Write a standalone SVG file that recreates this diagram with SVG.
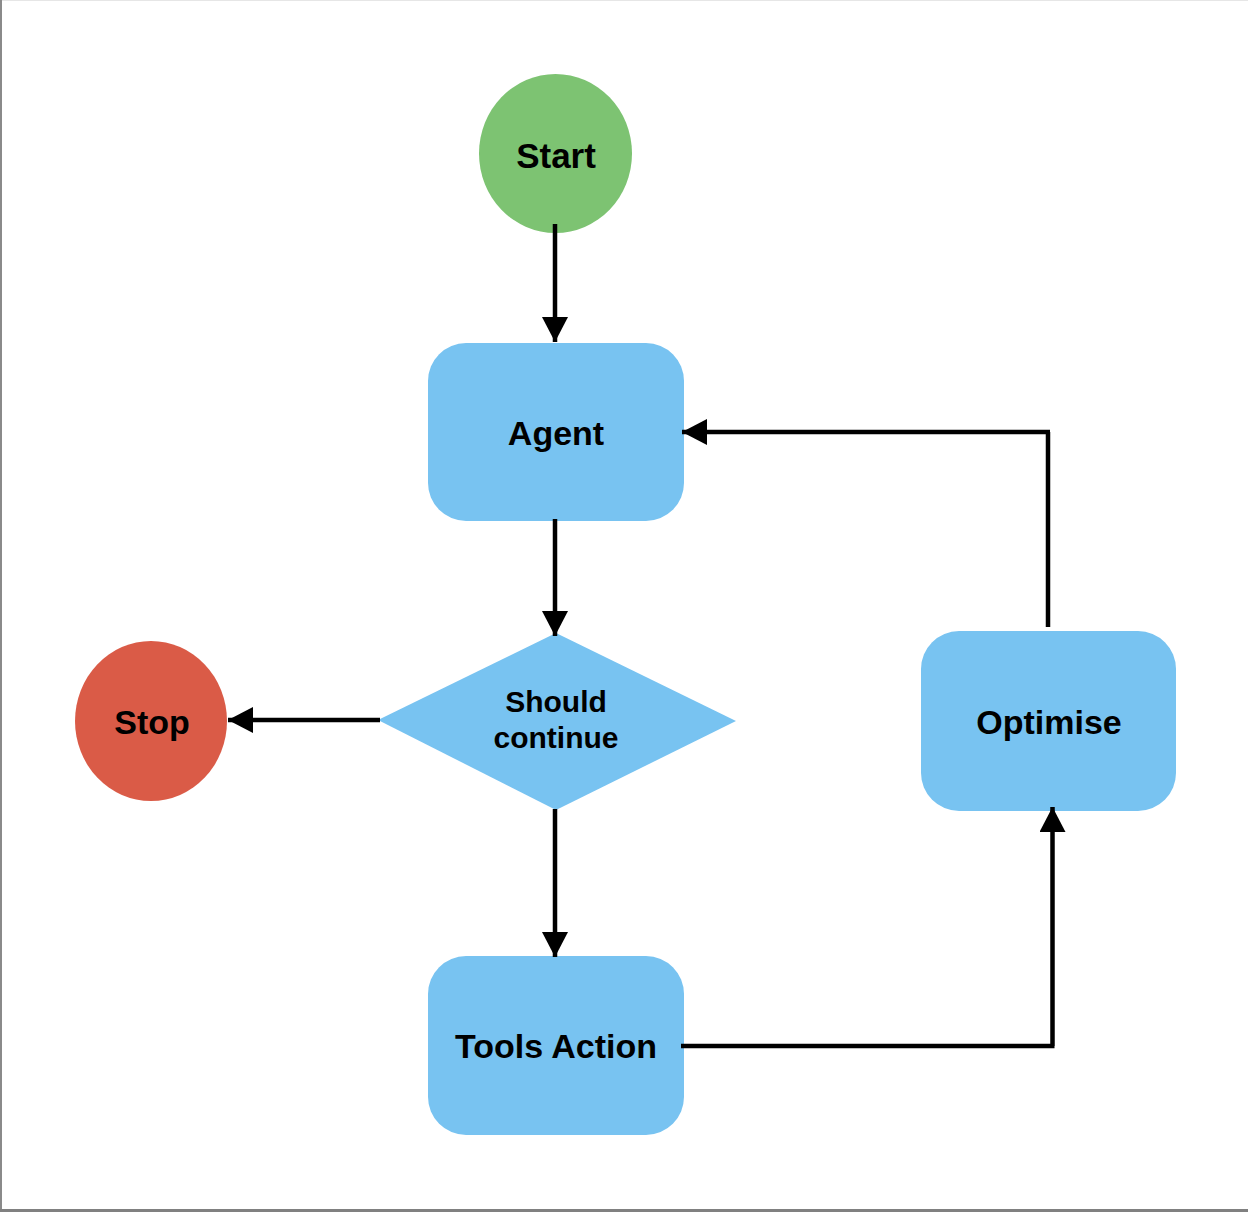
<svg xmlns="http://www.w3.org/2000/svg" width="1248" height="1212" viewBox="0 0 1248 1212">
<style>
.lbl{font-family:"Liberation Sans",Arial,sans-serif;font-weight:bold;font-size:34px;fill:#000;text-anchor:middle}
.sm{font-size:30px}
.blue{fill:#78C3F1}
.edge{fill:none;stroke:#000;stroke-width:4.5}
</style>
<defs>
<marker id="ah" viewBox="0 0 25 26" refX="25" refY="13" markerWidth="25" markerHeight="26" markerUnits="userSpaceOnUse" orient="auto">
<path d="M0,0 L25,13 L0,26 Z" fill="#000"/>
</marker>
</defs>
<rect x="0" y="0" width="1248" height="1212" fill="#fff"/>
<line x1="0" y1="0.5" x2="1248" y2="0.5" stroke="#e6e6e6" stroke-width="1"/>
<line x1="1" y1="0" x2="1" y2="1212" stroke="#8a8a8a" stroke-width="2"/>
<line x1="0" y1="1210.5" x2="1248" y2="1210.5" stroke="#808080" stroke-width="3"/>
<g id="start">
<ellipse cx="555.5" cy="153.5" rx="76.5" ry="79.5" fill="#7DC372"/>
<text class="lbl" x="556" y="168" style="font-size:35px">Start</text>
</g>
<g id="agent">
<rect class="blue" x="428" y="343" width="256" height="178" rx="38" ry="38"/>
<text class="lbl" x="556" y="445">Agent</text>
</g>
<g id="should-continue">
<polygon class="blue" points="378,720 556,633 736,721 556,810"/>
<text class="lbl sm" x="556" y="712">Should</text>
<text class="lbl sm" x="556" y="748">continue</text>
</g>
<g id="stop">
<ellipse cx="151" cy="721" rx="76" ry="80" fill="#DA5B47"/>
<text class="lbl" x="152" y="734">Stop</text>
</g>
<g id="tools-action">
<rect class="blue" x="428" y="956" width="256" height="179" rx="38" ry="38"/>
<text class="lbl" x="556" y="1058">Tools Action</text>
</g>
<g id="optimise">
<rect class="blue" x="921" y="631" width="255" height="180" rx="38" ry="38"/>
<text class="lbl" x="1049" y="734">Optimise</text>
</g>
<g id="connectors">
<path class="edge" d="M555,224 V342" marker-end="url(#ah)"/>
<path class="edge" d="M555,519 V636" marker-end="url(#ah)"/>
<path class="edge" d="M380,720 H228" marker-end="url(#ah)"/>
<path class="edge" d="M555,809 V957" marker-end="url(#ah)"/>
<path class="edge" d="M681,1046 H1054.5 M1052.5,1046 V807" marker-end="url(#ah)"/>
<path class="edge" d="M1048,627 V432 M1050,432 H682" marker-end="url(#ah)"/>
</g>
</svg>
